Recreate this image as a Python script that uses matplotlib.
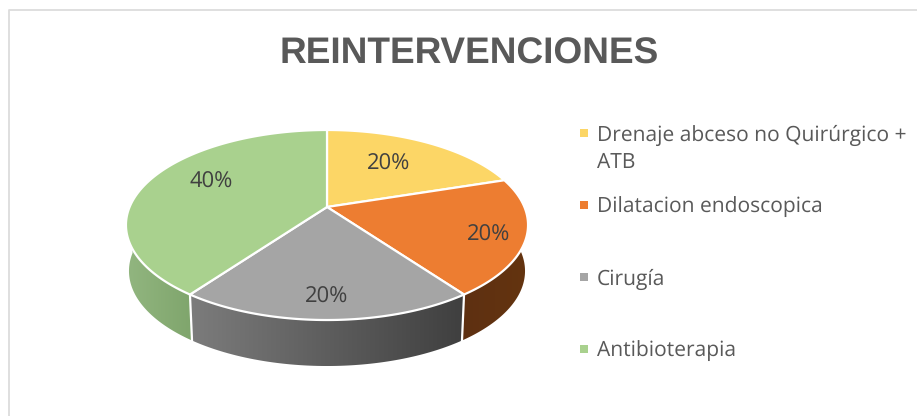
# Pie chart with fake 3D look, drawn with a small perspective projection

import numpy as np
import matplotlib
matplotlib.use('Agg')
import matplotlib.pyplot as plt
from matplotlib.patches import Polygon

categories = ['Drenaje abceso no Quirúrgico +\nATB', 'Dilatacion endoscopica', 'Cirugía', 'Antibioterapia']
values = [20, 20, 20, 40]
colors = ['#FCD666', '#ED7D31', '#A5A5A5', '#A9D18E']
title = 'REINTERVENCIONES'

# pixel layout
CX, CY = 327, 207
RX, RY, K = 197.4, 91.6, 0.1895
DEPTH = 46
label_pos = [(389, 164), (489, 235), (327, 297), (211, 182)]
legend_y = [133, 205, 277, 349]
legend_text_y = [149, 207, 279, 351]

plt.rcParams['text.hinting'] = 'no_hinting'
plt.rcParams['text.hinting_factor'] = 1


def project(angle_deg):
    # angle clockwise from the top of the pie
    a = np.radians(angle_deg)
    u, v = np.sin(a), np.cos(a)
    w = 1 + K * v
    return CX + RX * u / w, CY - RY * v / w


def lower(x, y):
    return CX + (x - CX) * 0.985, y + DEPTH


fig = plt.figure(figsize=(9.17, 4.16), dpi=100)
ax = fig.add_axes([0, 0, 1, 1])
ax.set_xlim(0, 917)
ax.set_ylim(416, 0)
ax.axis('off')

# chart frame
ax.plot([9, 9, 917], [416, 10, 10], color='#DCDCDC', lw=1.3)

shares = np.array(values) / sum(values) * 360
edges = np.concatenate([[0], np.cumsum(shares)])

# side walls, only the front part of the rim shows
wall_ranges = [(edges[1], edges[2], '#64340F', '#5E3012'),
               (edges[2], edges[3], '#3F3F3F', '#7C7C7C'),
               (edges[3], 270, '#7FA56C', '#92B680')]
for start, end, c_right, c_left in wall_ranges:
    t = np.linspace(start, end, 80)
    x, y = project(t)
    xb, yb = lower(x, y)
    pts = np.vstack([np.column_stack([x, y]), np.column_stack([xb, yb])[::-1]])
    wall = Polygon(pts, closed=True, facecolor='none', edgecolor='none')
    ax.add_patch(wall)
    cmap = matplotlib.colors.LinearSegmentedColormap.from_list('w', [c_left, c_right])
    im = ax.imshow(np.linspace(0, 1, 256).reshape(1, -1), cmap=cmap, aspect='auto',
                   extent=[pts[:, 0].min(), pts[:, 0].max(), pts[:, 1].max(), pts[:, 1].min()], zorder=2)
    im.set_clip_path(wall)

# white separators between the walls
for ang in edges[2:4]:
    x, y = project(ang)
    xb, yb = lower(x, y)
    ax.plot([x, xb], [y, yb], color='white', lw=1.6, zorder=3)

ax.set_xlim(0, 917)
ax.set_ylim(416, 0)

# top face
for i, val in enumerate(values):
    t = np.linspace(edges[i], edges[i + 1], 120)
    x, y = project(t)
    pts = np.vstack([[CX, CY], np.column_stack([x, y])])
    ax.add_patch(Polygon(pts, closed=True, facecolor=colors[i], edgecolor='white', lw=1.6,
                         joinstyle='round', zorder=4))
    lx, ly = label_pos[i]
    ax.text(lx, ly, f'{val}%', ha='center', va='center', fontsize=15.5, color='#404040',
            family='Open Sans', zorder=5)

ax.text(469.5, 54, title, ha='center', va='center', fontsize=26.9, fontweight='bold',
        color='#595959', family='Liberation Sans')

# legend
for i, cat in enumerate(categories):
    ax.scatter([583.5], [legend_y[i]], marker='s', s=28, color=colors[i], linewidths=0)
    ax.text(597, legend_text_y[i], cat, ha='left', va='center', fontsize=14.9, color='#595959',
            family='Open Sans', linespacing=1.35)

fig.savefig('out.png', dpi=100)
